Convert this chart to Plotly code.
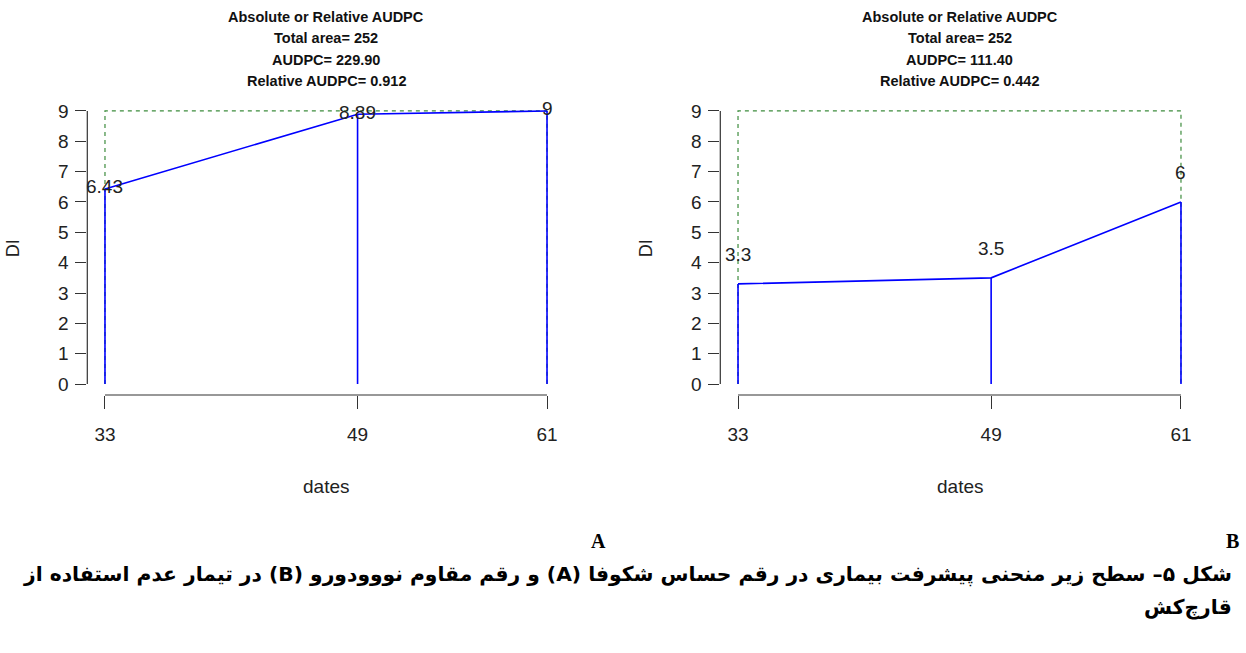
import plotly.graph_objects as go

# ---------------- data ----------------
dates = [33, 49, 61]
di_A = [6.43, 8.89, 9]
di_B = [3.3, 3.5, 6]
labels_A = ["6.43", "8.89", "9"]
labels_B = ["3.3", "3.5", "6"]
y_ticks = [0, 1, 2, 3, 4, 5, 6, 7, 8, 9]
x_ticks = [33, 49, 61]

title_A = ["Absolute or Relative AUDPC", "Total area= 252", "AUDPC= 229.90", "Relative AUDPC= 0.912"]
title_B = ["Absolute or Relative AUDPC", "Total area= 252", "AUDPC= 111.40", "Relative AUDPC= 0.442"]
panel_letters = ["A", "B"]
caption_1 = "شکل ۵– سطح زیر منحنی پیشرفت بیماری در رقم حساس شکوفا (A) و رقم مقاوم نووودورو (B) در تیمار عدم استفاده از"
caption_2 = "قارچ‌کش"

# ---------------- layout constants ----------------
W, H = 1246, 653
NARROW = "Liberation Sans Narrow, Arial Narrow, Liberation Sans, Arial, sans-serif"
SANS = "Liberation Sans, Arial, sans-serif"
BLUE = "#0000ff"
GREEN = "#3c8c3c"
AX = "#333333"

xr = [dates[0] - 0.04 * (dates[-1] - dates[0]), dates[-1] + 0.04 * (dates[-1] - dates[0])]
yr = [y_ticks[0] - 0.04 * (y_ticks[-1] - y_ticks[0]), y_ticks[-1] + 0.04 * (y_ticks[-1] - y_ticks[0])]

dom_x = [[87.3 / W, 564.7 / W], [720.3 / W, 1198.7 / W]]
dom_y = [(H - 395) / H, (H - 100) / H]

fig = go.Figure()

panels = [(di_A, labels_A, title_A, 2), (di_B, labels_B, title_B, 29)]
annotations = []
shapes = []
for i, (vals, labs, ttl, lab_shift) in enumerate(panels):
    xa = "x" if i == 0 else "x2"
    ya = "y" if i == 0 else "y2"
    # green dashed maximum rectangle
    fig.add_trace(go.Scatter(
        x=[dates[0], dates[0], dates[-1], dates[-1]],
        y=[y_ticks[0], y_ticks[-1], y_ticks[-1], y_ticks[0]],
        mode="lines", line=dict(color=GREEN, width=1.2, dash="4px,4px"),
        xaxis=xa, yaxis=ya, hoverinfo="skip", showlegend=False))
    # vertical blue lines
    vx, vy = [], []
    for d, v in zip(dates, vals):
        vx += [d, d, None]
        vy += [0, v, None]
    fig.add_trace(go.Scatter(x=vx, y=vy, mode="lines",
                             line=dict(color=BLUE, width=1.6),
                             xaxis=xa, yaxis=ya, hoverinfo="skip", showlegend=False))
    # disease progress curve
    fig.add_trace(go.Scatter(x=dates, y=vals, mode="lines",
                             line=dict(color=BLUE, width=1.6),
                             xaxis=xa, yaxis=ya, showlegend=False))
    # value labels
    for d, v, t in zip(dates, vals, labs):
        annotations.append(dict(x=d, y=v, xref=xa, yref=ya, text=t, showarrow=False,
                                yshift=lab_shift, font=dict(family=NARROW, size=19, color="#222")))
    # axis lines (R style: from first to last tick)
    shapes.append(dict(type="line", xref=xa, yref=ya + " domain", x0=dates[0], x1=dates[-1],
                       y0=0, y1=0, line=dict(color=AX, width=1.2)))
    shapes.append(dict(type="line", xref=xa + " domain", yref=ya, x0=0, x1=0,
                       y0=y_ticks[0], y1=y_ticks[-1], line=dict(color=AX, width=1.2)))
    # titles
    cx = (dom_x[i][0] + dom_x[i][1]) / 2
    for k, line in enumerate(ttl):
        annotations.append(dict(x=cx, y=1 - (17 + 21.3 * k) / H, xref="paper", yref="paper",
                                text="<b>" + line + "</b>", showarrow=False,
                                xanchor="center", yanchor="middle",
                                font=dict(family=SANS, size=14.5, color="#111")))
    # axis titles
    annotations.append(dict(x=cx, y=1 - 487 / H, xref="paper", yref="paper", text="dates",
                            showarrow=False, xanchor="center", yanchor="middle",
                            font=dict(family=NARROW, size=19, color="#222")))
    annotations.append(dict(x=(dom_x[i][0] * W - 74) / W, y=1 - 248 / H, xref="paper", yref="paper",
                            text="DI", textangle=-90, showarrow=False,
                            xanchor="center", yanchor="middle",
                            font=dict(family=NARROW, size=18, color="#222")))

axis_common = dict(showgrid=False, zeroline=False, showline=False, ticks="outside",
                   tickcolor=AX, tickwidth=1.2, tickfont=dict(family=NARROW, size=19, color="#222"))

fig.update_layout(
    width=W, height=H, margin=dict(l=0, r=0, t=0, b=0),
    paper_bgcolor="white", plot_bgcolor="white", showlegend=False,
    xaxis=dict(domain=dom_x[0], range=xr, tickvals=x_ticks, ticklen=13, ticklabelstandoff=9,
               anchor="y", **axis_common),
    yaxis=dict(domain=dom_y, range=yr, tickvals=y_ticks, ticklen=11, ticklabelstandoff=3,
               anchor="x", **axis_common),
    xaxis2=dict(domain=dom_x[1], range=xr, tickvals=x_ticks, ticklen=13, ticklabelstandoff=9,
                anchor="y2", **axis_common),
    yaxis2=dict(domain=dom_y, range=yr, tickvals=y_ticks, ticklen=11, ticklabelstandoff=3,
                anchor="x2", **axis_common),
)

# panel letters
for letter, px in zip(panel_letters, [598, 1232]):
    annotations.append(dict(x=px / W, y=1 - 541 / H, xref="paper", yref="paper", text="<b>" + letter + "</b>",
                            showarrow=False, xanchor="center", yanchor="middle",
                            font=dict(family="Liberation Serif, Times New Roman, serif", size=20, color="black")))

# Persian caption (right-to-left)
for txt, py in [(caption_1, 574), (caption_2, 607)]:
    annotations.append(dict(x=1234 / W, y=1 - py / H, xref="paper", yref="paper",
                            text="<b>\u202b" + txt + "\u202c</b>", showarrow=False,
                            xanchor="right", yanchor="middle",
                            font=dict(family="DejaVu Sans, Noto Sans, sans-serif", size=20.3, color="black")))

fig.update_layout(annotations=annotations, shapes=shapes)
fig.write_html("out.html")
